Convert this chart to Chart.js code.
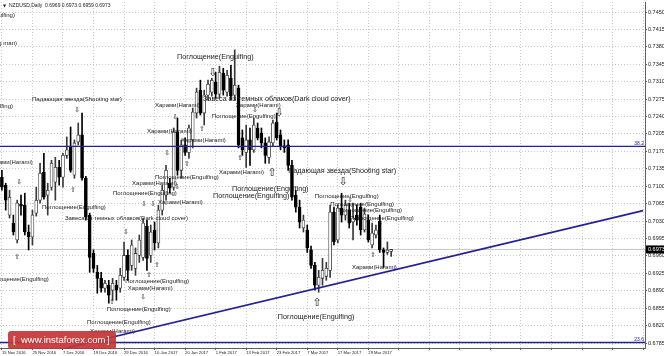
<!DOCTYPE html>
<html>
<head>
<meta charset="utf-8">
<title>NZDUSD Daily</title>
<script src="https://cdn.jsdelivr.net/npm/chart.js@4.4.0/dist/chart.umd.min.js"></script>
<style>
  html, body { margin: 0; padding: 0; background: #ffffff; }
  canvas { display: block; }
</style>
</head>
<body>
<canvas id="my-chart" width="664" height="356" style="width:664px;height:356px"></canvas>
<script>
'use strict';

//**********Global Variables*******************

let fontName = '"Liberation Sans", Arial, sans-serif';

// daily candles, 15 Nov 2016 onwards
let opens = [
  0.7118, 0.7102, 0.7042, 0.7026, 0.6992, 0.7064, 0.7062, 0.7008, 0.6998, 0.7046,
  0.7072, 0.7128, 0.7082, 0.7098, 0.7108, 0.7138, 0.7118, 0.7162, 0.7179, 0.7122,
  0.7189, 0.7203, 0.7116, 0.7042, 0.6965, 0.6927, 0.6915, 0.6895, 0.6901, 0.6891,
  0.6901, 0.6895, 0.6917, 0.6961, 0.6941, 0.6935, 0.6961, 0.6957, 0.7020, 0.6961,
  0.7012, 0.6986, 0.7052, 0.7082, 0.7106, 0.7098, 0.7209, 0.7132, 0.7183, 0.7168,
  0.7193, 0.7247, 0.7293, 0.7247, 0.7283, 0.7289, 0.7309, 0.7285, 0.7327, 0.7289,
  0.7317, 0.7283, 0.7297, 0.7197, 0.7168, 0.7193, 0.7173, 0.7217, 0.7207, 0.7187,
  0.7158, 0.7187, 0.7229, 0.7203, 0.7181, 0.7183, 0.7142, 0.7082, 0.7058, 0.7016,
  0.7012, 0.6972, 0.6941, 0.6901, 0.6915, 0.6919, 0.6931, 0.7048, 0.6992, 0.7056,
  0.7042, 0.7052, 0.7028, 0.7042, 0.7058, 0.7012, 0.7032, 0.6982, 0.7002, 0.7030,
  0.6972, 0.6967, 0.6969
];
let highs = [
  0.7132, 0.7106, 0.7092, 0.7042, 0.7072, 0.7082, 0.7086, 0.7022, 0.7052, 0.7098,
  0.7146, 0.7166, 0.7106, 0.7152, 0.7158, 0.7152, 0.7166, 0.7199, 0.7219, 0.7193,
  0.7227, 0.7247, 0.7120, 0.7046, 0.6972, 0.6941, 0.6927, 0.6911, 0.6911, 0.6915,
  0.6911, 0.6935, 0.6988, 0.6972, 0.6992, 0.6976, 0.7002, 0.7036, 0.7032, 0.7022,
  0.7028, 0.7062, 0.7102, 0.7142, 0.7116, 0.7217, 0.7237, 0.7193, 0.7197, 0.7223,
  0.7257, 0.7297, 0.7313, 0.7293, 0.7313, 0.7317, 0.7329, 0.7341, 0.7337, 0.7333,
  0.7343, 0.7374, 0.7303, 0.7213, 0.7223, 0.7217, 0.7237, 0.7227, 0.7217, 0.7197,
  0.7199, 0.7233, 0.7247, 0.7213, 0.7193, 0.7193, 0.7152, 0.7092, 0.7072, 0.7042,
  0.7022, 0.6980, 0.6947, 0.6931, 0.6955, 0.6947, 0.7062, 0.7058, 0.7062, 0.7086,
  0.7072, 0.7066, 0.7066, 0.7062, 0.7066, 0.7056, 0.7042, 0.7026, 0.7022, 0.7042,
  0.6976, 0.6988, 0.6973
];
let lows = [
  0.7092, 0.7052, 0.7036, 0.7002, 0.6986, 0.7042, 0.7002, 0.6972, 0.6982, 0.7040,
  0.7066, 0.7074, 0.7042, 0.7092, 0.7072, 0.7102, 0.7098, 0.7156, 0.7128, 0.7116,
  0.7183, 0.7112, 0.7032, 0.6927, 0.6927, 0.6885, 0.6887, 0.6887, 0.6865, 0.6871,
  0.6871, 0.6887, 0.6911, 0.6911, 0.6931, 0.6921, 0.6947, 0.6951, 0.6931, 0.6947,
  0.6972, 0.6976, 0.7042, 0.7072, 0.7086, 0.7092, 0.7122, 0.7116, 0.7162, 0.7156,
  0.7177, 0.7237, 0.7243, 0.7223, 0.7273, 0.7281, 0.7277, 0.7277, 0.7283, 0.7281,
  0.7273, 0.7273, 0.7177, 0.7162, 0.7138, 0.7142, 0.7168, 0.7193, 0.7177, 0.7146,
  0.7146, 0.7181, 0.7193, 0.7173, 0.7168, 0.7132, 0.7072, 0.7048, 0.7016, 0.7008,
  0.6967, 0.6935, 0.6891, 0.6887, 0.6901, 0.6911, 0.6917, 0.6982, 0.6986, 0.7028,
  0.7032, 0.7016, 0.6992, 0.7022, 0.7002, 0.7008, 0.6988, 0.6976, 0.6996, 0.6967,
  0.6937, 0.6963, 0.6959
];
let closes = [
  0.7098, 0.7072, 0.7078, 0.7008, 0.7066, 0.7060, 0.7008, 0.6998, 0.7042, 0.7072,
  0.7126, 0.7078, 0.7092, 0.7146, 0.7138, 0.7118, 0.7162, 0.7173, 0.7132, 0.7187,
  0.7203, 0.7116, 0.7038, 0.6957, 0.6935, 0.6915, 0.6895, 0.6905, 0.6881, 0.6905,
  0.6891, 0.6921, 0.6961, 0.6931, 0.6982, 0.6965, 0.6992, 0.7026, 0.6955, 0.7008,
  0.6986, 0.7052, 0.7092, 0.7132, 0.7096, 0.7209, 0.7132, 0.7183, 0.7168, 0.7217,
  0.7249, 0.7289, 0.7247, 0.7283, 0.7305, 0.7313, 0.7285, 0.7329, 0.7293, 0.7323,
  0.7281, 0.7303, 0.7183, 0.7173, 0.7193, 0.7173, 0.7223, 0.7197, 0.7187, 0.7162,
  0.7189, 0.7227, 0.7197, 0.7179, 0.7177, 0.7142, 0.7078, 0.7058, 0.7028, 0.7032,
  0.6976, 0.6941, 0.6901, 0.6917, 0.6931, 0.6935, 0.7048, 0.6988, 0.7056, 0.7042,
  0.7062, 0.7026, 0.7036, 0.7032, 0.7012, 0.7044, 0.6992, 0.7006, 0.7012, 0.6972,
  0.6967, 0.6972, 0.6973
];

let dateTicks = ['15 Nov 2016', '25 Nov 2016', '7 Dec 2016', '19 Dec 2016', '29 Dec 2016',
  '10 Jan 2017', '20 Jan 2017', '1 Feb 2017', '13 Feb 2017', '23 Feb 2017',
  '7 Mar 2017', '17 Mar 2017', '29 Mar 2017'];
let yTicks = [0.7450, 0.7415, 0.7380, 0.7345, 0.7310, 0.7275, 0.7240, 0.7205, 0.7170, 0.7135,
  0.7100, 0.7065, 0.7030, 0.6995, 0.6960, 0.6925, 0.6890, 0.6855, 0.6820, 0.6785];

let slotCount = 169;            // bars + empty room on the right
let barsPerLabel = 8;

let trendIdx = [0, 168];
let trendVals = [0.6744, 0.7051];
let fibVals = [0.7180, 0.6786];
let fibNames = ['38.2', '23.6'];
let bidPrice = 0.6973;

// pattern texts: text, bar, price, size (b / s), anchor (l / r)
let patternLabels = [
  ['Поглощение(Engulfing)', 3.4, 0.7444, 's', 'r'],
  ['Повешенный(Hanging man)', 3.95, 0.7388, 's', 'r'],
  ['Поглощение(Engulfing)', 2.9, 0.7261, 's', 'r'],
  ['Падающая звезда(Shooting star)', 7.9, 0.7275, 's', 'l'],
  ['Харами(Harami)', 8.1, 0.7148, 's', 'r'],
  ['Поглощение(Engulfing)', 10.5, 0.7058, 's', 'l'],
  ['Завеса из темных облаков(Dark cloud cover)', 16.5, 0.7036, 's', 'l'],
  ['Поглощение(Engulfing)', 12.3, 0.6913, 's', 'r'],
  ['Харами(Harami)', 40.1, 0.7263, 's', 'l'],
  ['Харами(Harami)', 61.3, 0.7263, 's', 'l'],
  ['Поглощение(Engulfing)', 55.0, 0.7241, 's', 'l'],
  ['Харами(Harami)', 38.0, 0.7211, 's', 'l'],
  ['Харами(Harami)', 46.9, 0.7193, 's', 'l'],
  ['Поглощение(Engulfing)', 40.1, 0.7118, 's', 'l'],
  ['Харами(Harami)', 56.9, 0.7128, 's', 'l'],
  ['Харами(Harami)', 34.1, 0.7106, 's', 'l'],
  ['Поглощение(Engulfing)', 29.1, 0.7086, 's', 'l'],
  ['Харами(Harami)', 40.9, 0.7068, 's', 'l'],
  ['Поглощение(Engulfing)', 32.3, 0.6909, 's', 'l'],
  ['Харами(Harami)', 33.0, 0.6895, 's', 'l'],
  ['Поглощение(Engulfing)', 27.5, 0.6853, 's', 'l'],
  ['Поглощение(Engulfing)', 22.3, 0.6827, 's', 'l'],
  ['Харами(Harami)', 23.1, 0.6809, 's', 'l'],
  ['Поглощение(Engulfing)', 82.0, 0.7080, 's', 'l'],
  ['Поглощение(Engulfing)', 86.0, 0.7064, 's', 'l'],
  ['Поглощение(Engulfing)', 88.1, 0.7052, 's', 'l'],
  ['Поглощение(Engulfing)', 91.2, 0.7036, 's', 'l'],
  ['Харами(Harami)', 91.7, 0.6937, 's', 'l'],
  ['Поглощение(Engulfing)', 45.9, 0.7359, 'b', 'l'],
  ['Завеса из темных облаков(Dark cloud cover)', 52.7, 0.7275, 'b', 'l'],
  ['Падающая звезда(Shooting star)', 75.0, 0.7130, 'b', 'l'],
  ['Поглощение(Engulfing)', 60.3, 0.7094, 'b', 'l'],
  ['Поглощение(Engulfing)', 55.3, 0.7080, 'b', 'l'],
  ['Поглощение(Engulfing)', 72.3, 0.6837, 'b', 'l']
];

// signal arrows: direction, bar, price, size
let arrowMarks = [
  ['d', 55.3, 0.7327, 'b'], ['d', 72.6, 0.7247, 'b'], ['d', 89.4, 0.7108, 'b'],
  ['u', 70.8, 0.7126, 'b'], ['u', 82.6, 0.6865, 'b'],
  ['d', 19.7, 0.7253, 's'], ['d', 4.5, 0.7108, 's'], ['u', 18.6, 0.7092, 's'],
  ['d', 32.5, 0.7008, 's'], ['u', 4.0, 0.6957, 's'], ['d', 45.4, 0.7239, 's'],
  ['d', 66.3, 0.7253, 's'], ['u', 52.4, 0.7215, 's'], ['d', 43.3, 0.7166, 's'],
  ['u', 48.5, 0.7144, 's'], ['u', 62.4, 0.7156, 's'], ['d', 45.9, 0.7098, 's'],
  ['d', 37.2, 0.7064, 's'], ['d', 39.6, 0.7064, 's'], ['u', 40.6, 0.6941, 's'],
  ['u', 38.5, 0.6921, 's'], ['u', 28.8, 0.6867, 's'], ['d', 37.0, 0.6877, 's'],
  ['d', 91.2, 0.7072, 's'], ['d', 95.9, 0.7038, 's'], ['d', 99.1, 0.7026, 's'],
  ['u', 97.2, 0.6961, 's']
];

// ************ Candle datasets ************

let wickData = [];
let bodyData = [];
let bodyFill = [];
let bodyEdge = [];

for (let i = 0; i < opens.length; i++) {
  wickData.push({x: i, y: [lows[i], highs[i]]});
  bodyData.push({x: i, y: [opens[i], closes[i]]});
  let up = closes[i] >= opens[i];
  bodyFill.push(up ? '#ffffff' : '#000000');
  bodyEdge.push(up ? '#3a3a3a' : '#000000');
}

let gridIdx = [];
for (let i = 0; i < slotCount; i += barsPerLabel) {
  gridIdx.push(i);
}

function flatLine(v) {
  return [{x: -0.5, y: v}, {x: slotCount - 0.5, y: v}];
}

// ************ Plugins ************

let marksPlugin = {
  id: 'marks',
  afterDatasetsDraw(chart) {
    let ctx = chart.ctx;
    let xs = chart.scales.x;
    let ys = chart.scales.y;
    ctx.save();
    ctx.fillStyle = '#1a1a1a';
    ctx.textBaseline = 'middle';
    for (let i = 0; i < patternLabels.length; i++) {
      let m = patternLabels[i];
      ctx.font = (m[3] === 'b' ? '7.2px ' : '6px ') + fontName;
      ctx.textAlign = m[4] === 'r' ? 'right' : 'left';
      ctx.fillText(m[0], xs.getPixelForValue(m[1]), ys.getPixelForValue(m[2]));
    }
    ctx.textAlign = 'center';
    for (let i = 0; i < arrowMarks.length; i++) {
      let a = arrowMarks[i];
      ctx.font = (a[3] === 'b' ? '11px' : '7px') + ' "DejaVu Sans"';
      ctx.fillText(a[0] === 'u' ? '\u21E7' : '\u21E9', xs.getPixelForValue(a[1]), ys.getPixelForValue(a[2]));
    }
    ctx.restore();
  }
};

let framePlugin = {
  id: 'frame',
  afterDraw(chart) {
    let ctx = chart.ctx;
    let area = chart.chartArea;
    let ys = chart.scales.y;
    ctx.save();

    // title
    ctx.fillStyle = '#202020';
    ctx.textBaseline = 'middle';
    ctx.textAlign = 'left';
    ctx.font = '4px "DejaVu Sans"';
    ctx.fillText('\u25BC', 3, 5.5);
    ctx.font = '5px ' + fontName;
    ctx.fillText('NZDUSD,Daily  0.6969 0.6973 0.6959 0.6973', 9, 5.5);

    // fibo level names
    ctx.fillStyle = '#2020a0';
    ctx.font = '5px ' + fontName;
    ctx.textAlign = 'right';
    ctx.textBaseline = 'bottom';
    for (let i = 0; i < fibVals.length; i++) {
      ctx.fillText(fibNames[i], area.right - 1, ys.getPixelForValue(fibVals[i]) - 0.5);
    }

    // bid price box
    let by = ys.getPixelForValue(bidPrice);
    ctx.fillStyle = '#000000';
    ctx.fillRect(area.right + 1, by - 4, 18, 8);
    ctx.fillStyle = '#ffffff';
    ctx.textAlign = 'left';
    ctx.textBaseline = 'middle';
    ctx.font = '5.5px ' + fontName;
    ctx.fillText(bidPrice.toFixed(4), area.right + 3, by);

    // watermark
    ctx.fillStyle = 'rgba(196, 52, 52, 0.92)';
    ctx.beginPath();
    ctx.roundRect(8, 331, 108, 18, 3);
    ctx.fill();
    ctx.fillStyle = '#ffffff';
    ctx.font = '9.5px ' + fontName;
    ctx.textBaseline = 'middle';
    ctx.fillText('[', 13, 340);
    ctx.fillText('www.instaforex.com', 21, 340);
    ctx.fillText(']', 107, 340);

    ctx.restore();
  }
};

// ************** Chart ********************

let canvasElem = document.getElementById('my-chart');

let myObj = {
  type: 'bar',
  data: {
    datasets: [
      {
        type: 'line',
        data: [{x: trendIdx[0], y: trendVals[0]}, {x: trendIdx[1], y: trendVals[1]}],
        borderColor: '#2020a0',
        borderWidth: 1.6,
        pointRadius: 0,
        order: 0
      },
      {
        type: 'line',
        data: flatLine(fibVals[0]),
        borderColor: '#2020a0',
        borderWidth: 1.4,
        pointRadius: 0,
        order: 0
      },
      {
        type: 'line',
        data: flatLine(fibVals[1]),
        borderColor: '#2020a0',
        borderWidth: 1.4,
        pointRadius: 0,
        order: 0
      },
      {
        type: 'line',
        data: flatLine(bidPrice),
        borderColor: '#c8c8c8',
        borderWidth: 1,
        pointRadius: 0,
        order: 3
      },
      {
        data: wickData,
        backgroundColor: bodyEdge,
        barThickness: 1,
        grouped: false,
        order: 2
      },
      {
        data: bodyData,
        backgroundColor: bodyFill,
        borderColor: bodyEdge,
        borderWidth: 0.8,
        borderSkipped: false,
        barThickness: 3,
        grouped: false,
        order: 1
      }
    ]
  },
  options: {
    responsive: false,
    devicePixelRatio: 1,
    animation: false,
    events: [],
    layout: { padding: { top: 2, left: 0, right: 0, bottom: 0 } },
    plugins: {
      legend: { display: false },
      tooltip: { enabled: false },
      title: { display: false }
    },
    scales: {
      x: {
        type: 'linear',
        min: -0.5,
        max: slotCount - 0.5,
        offset: false,
        afterBuildTicks: function (scale) {
          scale.ticks = gridIdx.map(function (v) { return {value: v}; });
        },
        afterFit: function (scale) {
          scale.height = 8;
          scale.paddingLeft = 0;
          scale.paddingRight = 0;
        },
        grid: { offset: false, color: '#c8c8c8', lineWidth: 1, drawTicks: true, tickLength: 2, tickColor: '#606060' },
        border: { display: true, color: '#606060', width: 1, dash: [1, 2] },
        ticks: {
          autoSkip: false,
          maxRotation: 0,
          align: 'start',
          padding: 0,
          color: '#202020',
          font: { family: fontName, size: 4.2 },
          callback: function (value) {
            let k = value / barsPerLabel;
            return dateTicks[k] || '';
          }
        }
      },
      y: {
        position: 'right',
        min: 0.67750,
        max: 0.74701,
        afterBuildTicks: function (scale) {
          scale.ticks = yTicks.map(function (v) { return {value: v}; });
        },
        afterFit: function (scale) {
          scale.width = 19;
          scale.paddingTop = 0;
          scale.paddingBottom = 0;
        },
        grid: { color: '#c8c8c8', lineWidth: 1, drawTicks: true, tickLength: 2, tickColor: '#606060' },
        border: { display: true, color: '#606060', width: 1, dash: [1, 2] },
        ticks: {
          padding: 1,
          color: '#202020',
          font: { family: fontName, size: 5.5 },
          callback: function (value) {
            return value.toFixed(4);
          }
        }
      }
    }
  },
  plugins: [marksPlugin, framePlugin]
};

new Chart(canvasElem, myObj);
</script>
</body>
</html>
